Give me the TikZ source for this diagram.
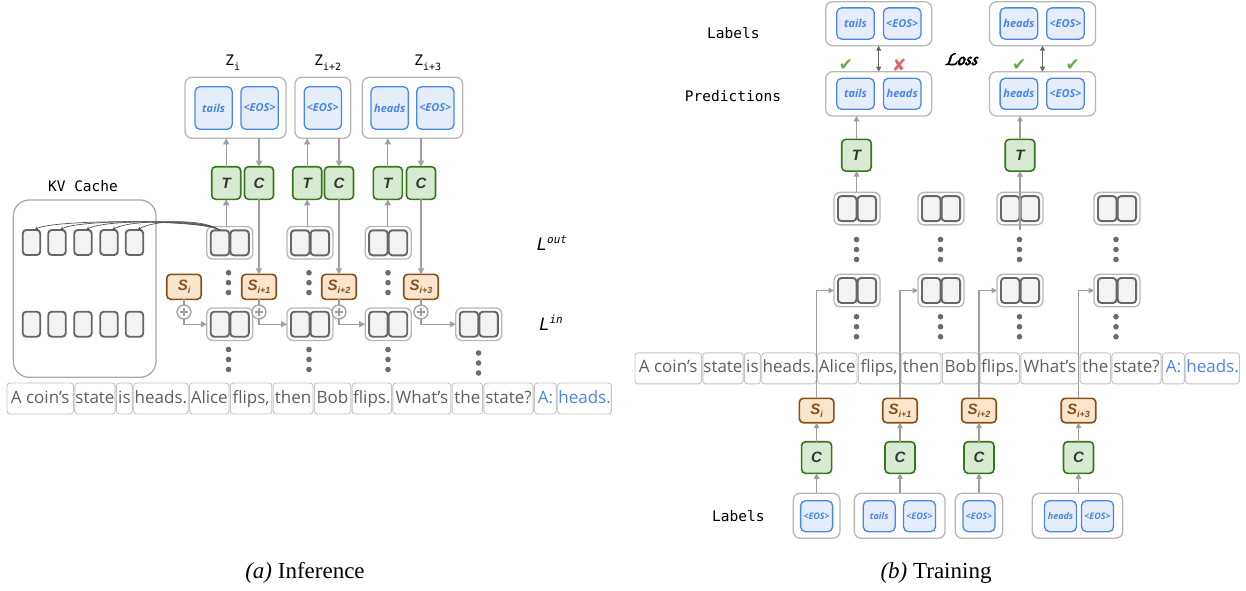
\documentclass[tikz,border=0pt]{standalone}
\usepackage[T1,TU]{fontenc}
\usepackage{fontspec}
\usetikzlibrary{arrows.meta,calc,positioning}
\setmainfont{Open Sans}
\newfontfamily\wordfont{Open Sans}
\newfontfamily\tokfamily{Open Sans}
\newfontfamily\monofam{DejaVu Sans Mono}
\newfontfamily\letterfam{Liberation Sans}
\newfontfamily\capfam{Liberation Serif}
\newfontfamily\symfam{DejaVu Sans}

\definecolor{arrowgrey}{HTML}{9E9E9E}
\definecolor{holdgrey}{HTML}{B7B7B7}
\definecolor{kvgrey}{HTML}{AAAAAA}
\definecolor{cellgrey}{HTML}{666666}
\definecolor{cellfill}{HTML}{F3F3F3}
\definecolor{tokblue}{HTML}{4A86E8}
\definecolor{tokfill}{HTML}{E4EDF9}
\definecolor{gborder}{HTML}{38761D}
\definecolor{gfill}{HTML}{D9EAD3}
\definecolor{lettergrey}{HTML}{353535}
\definecolor{sborder}{HTML}{85501A}
\definecolor{sfill}{HTML}{FCE5CD}
\definecolor{wordgrey}{HTML}{C4C4C4}
\definecolor{wordtext}{HTML}{5F5F5F}
\definecolor{dotgrey}{HTML}{6B6B6B}
\definecolor{chkgreen}{HTML}{6AA84F}
\definecolor{xred}{HTML}{E06666}
\definecolor{dblgrey}{HTML}{666666}
\definecolor{kvline}{HTML}{555555}

\tikzset{
  every node/.style={outer sep=0pt},
  arr/.style={draw=arrowgrey, line width=1.3pt, -{Triangle[length=6pt,width=6pt]}},
  thinarr/.style={draw=arrowgrey, line width=1.1pt, -{Triangle[length=5.5pt,width=5.5pt]}},
  plain/.style={draw=arrowgrey, line width=1.3pt},
  dblarr/.style={draw=dblgrey, line width=1.2pt, {Triangle[length=5pt,width=5pt]}-{Triangle[length=5pt,width=5pt]}},
  kvarr/.style={draw=kvline, line width=0.7pt, -{Stealth[length=4pt,width=3.6pt]}},
  hold/.style={draw=holdgrey, fill=white, rounded corners=7pt, line width=1.3pt, inner sep=0pt},
  cellbox/.style={draw=cellgrey, fill=cellfill, rounded corners=3.5pt, line width=1.9pt, inner sep=0pt, minimum width=18.5pt, minimum height=25pt},
  tokbox/.style={draw=tokblue, fill=tokfill, rounded corners=5pt, line width=1.3pt, inner sep=0pt, text=tokblue, font=\tokfamily\bfseries\itshape\fontsize{11}{13}\selectfont},
  smalltok/.style={tokbox, minimum width=32pt, minimum height=31pt, font=\tokfamily\bfseries\itshape\fontsize{9}{11}\selectfont},
  greenbox/.style={draw=gborder, fill=gfill, rounded corners=4pt, line width=1.6pt, inner sep=0pt, minimum width=29.5pt, minimum height=32pt, text=lettergrey, font=\letterfam\bfseries\itshape\fontsize{15}{15}\selectfont},
  sbox/.style={draw=sborder, fill=sfill, rounded corners=4pt, line width=1.6pt, inner sep=0pt, minimum width=34.5pt, minimum height=25pt, text=sborder, font=\letterfam\bfseries\itshape\fontsize{15}{15}\selectfont},
  wordbox/.style={draw=wordgrey, rounded corners=3pt, line width=0.9pt, inner xsep=0.6pt, inner ysep=0pt, minimum height=31pt, text height=12.6pt, text depth=3.6pt, text=wordtext, font=\wordfont\fontsize{17}{17}\selectfont},
  addcirc/.style={circle, draw=arrowgrey, fill=white, line width=1.3pt, minimum size=14pt, inner sep=0pt,
    path picture={\draw[arrowgrey, line width=1.4pt]
      ($(path picture bounding box.center)+(-4.3,0)$) -- ($(path picture bounding box.center)+(4.3,0)$)
      ($(path picture bounding box.center)+(0,-4.3)$) -- ($(path picture bounding box.center)+(0,4.3)$);}},
  mono/.style={font=\monofam\fontsize{14.5}{14.5}\selectfont, text=black},
  tickmark/.style={font=\symfam\fontsize{17}{17}\selectfont},
}

% a hidden-state pair: rounded holder with two cells
\newcommand\pairbox[3]{%
  \node[hold, rounded corners=6pt, minimum width=46pt, minimum height=32.5pt] (#1) at (#2,#3) {};
  \node[cellbox] (#1-l) at ($(#1)+(-9.8,0)$) {};
  \node[cellbox] (#1-r) at ($(#1)+(9.8,0)$) {};
}
% three stacked dots
\newcommand\dotcol[3]{%
  \foreach \k in {0,1,2} \fill[dotgrey] (#1,{#2+\k*#3}) circle[radius=2.8pt];
}
% the tokenised prompt
\newcommand\sentence[3]{%
  \node[wordbox, minimum width=66.5pt, anchor=west] (#1w1) at (#2,#3) {A coin’s};
  \node[wordbox, minimum width=40pt, right=1.3pt of #1w1] (#1w2) {state};
  \node[wordbox, minimum width=16pt, right=1.3pt of #1w2] (#1w3) {is};
  \node[wordbox, minimum width=54.5pt, right=1.3pt of #1w3] (#1w4) {heads.};
  \node[wordbox, minimum width=39.5pt, right=1.3pt of #1w4] (#1w5) {Alice};
  \node[wordbox, minimum width=41.6pt, right=1.3pt of #1w5] (#1w6) {flips,};
  \node[wordbox, minimum width=39.8pt, right=1.3pt of #1w6] (#1w7) {then};
  \node[wordbox, minimum width=36.5pt, right=1.3pt of #1w7] (#1w8) {Bob};
  \node[wordbox, minimum width=39.5pt, right=1.3pt of #1w8] (#1w9) {flips.};
  \node[wordbox, minimum width=58pt, right=1.3pt of #1w9] (#1w10) {What’s};
  \node[wordbox, minimum width=30.4pt, right=1.3pt of #1w10] (#1w11) {the};
  \node[wordbox, minimum width=49.2pt, right=1.3pt of #1w11] (#1w12) {state?};
  \node[wordbox, minimum width=22pt, right=1.3pt of #1w12, text=tokblue] (#1w13) {A:};
  \node[wordbox, minimum width=53.7pt, right=1.3pt of #1w13, text=tokblue] (#1w14) {heads.};
}

\begin{document}
\begin{tikzpicture}[x=1pt,y=-1pt]
\fill[white] (0,0) rectangle (1246,590);
\useasboundingbox (0,0) rectangle (1246,590);

% ================= (a) Inference =================
% KV cache
\node[draw=kvgrey, rounded corners=16pt, line width=1.3pt, minimum width=142.7pt, minimum height=177.3pt, inner sep=0pt] (kv) at (84.65,288.65) {};
\node[mono] (kvlabel) at (83,186) {KV Cache};
\foreach \i/\x in {1/31.5,2/57,3/83,4/109,5/134.5} {
  \node[cellbox, minimum width=17.5pt] (kvt\i) at (\x,242.5) {};
  \node[cellbox, minimum width=17.5pt] (kvb\i) at (\x,324.2) {};
}

% output groups Z
\node[hold, minimum width=101pt, minimum height=61pt] (zA) at (235.5,107.8) {};
\node[tokbox, minimum width=37.3pt, minimum height=42.6pt] (zA1) at (213.6,108) {tails};
\node[tokbox, minimum width=37.3pt, minimum height=42.6pt] (zA2) at (259.6,108) {<EOS>};
\node[hold, minimum width=55.7pt, minimum height=61pt] (zB) at (322.8,107.8) {};
\node[tokbox, minimum width=37.3pt, minimum height=42.6pt] (zB1) at (322.8,108) {<EOS>};
\node[hold, minimum width=100.4pt, minimum height=61pt] (zC) at (412.5,107.8) {};
\node[tokbox, minimum width=37.3pt, minimum height=42.6pt] (zC1) at (389.7,108) {heads};
\node[tokbox, minimum width=37.3pt, minimum height=42.6pt] (zC2) at (435.3,108) {<EOS>};

\node[mono, anchor=west] (zlabA) at (222,63) {Z\raisebox{-5pt}{\fontsize{10}{10}\selectfont i}};
\node[mono, anchor=west] (zlabB) at (311,63) {Z\raisebox{-5pt}{\fontsize{10}{10}\selectfont i+2}};
\node[mono, anchor=west] (zlabC) at (411,63) {Z\raisebox{-5pt}{\fontsize{10}{10}\selectfont i+3}};

% translator / compressor heads
\node[greenbox, minimum width=29pt, minimum height=32.6pt] (tA) at (226.2,183) {T};
\node[greenbox, minimum width=29pt, minimum height=32.6pt] (cA) at (259,183) {C};
\node[greenbox, minimum width=29pt, minimum height=32.6pt] (tB) at (307.2,183) {T};
\node[greenbox, minimum width=29pt, minimum height=32.6pt] (cB) at (339,183) {C};
\node[greenbox, minimum width=29pt, minimum height=32.6pt] (tC) at (387.8,183) {T};
\node[greenbox, minimum width=29pt, minimum height=32.6pt] (cC) at (421,183) {C};

% hidden states, output layer and input layer
\pairbox{hA}{229.8}{242.8}
\pairbox{hB}{310}{242.8}
\pairbox{hC}{388.2}{242.8}
\pairbox{iA}{229.8}{324.2}
\pairbox{iB}{310}{324.2}
\pairbox{iC}{388.2}{324.2}
\pairbox{iD}{478.8}{324.2}

% states
\node[sbox] (sA) at (184,286.8) {S\raisebox{-3pt}{\fontsize{9}{9}\selectfont i}};
\node[sbox] (sB) at (259,286.8) {S\raisebox{-3pt}{\fontsize{9}{9}\selectfont i+1}};
\node[sbox] (sC) at (339,286.8) {S\raisebox{-3pt}{\fontsize{9}{9}\selectfont i+2}};
\node[sbox] (sD) at (421,286.8) {S\raisebox{-3pt}{\fontsize{9}{9}\selectfont i+3}};
\node[addcirc] (pA) at (184,312) {};
\node[addcirc] (pB) at (259,312) {};
\node[addcirc] (pC) at (339,312) {};
\node[addcirc] (pD) at (421,312) {};

% dots
\dotcol{228.5}{272.7}{9.9}
\dotcol{309}{272.7}{9.9}
\dotcol{388}{272.7}{9.9}
\dotcol{228.5}{349.5}{10}
\dotcol{309}{349.5}{10}
\dotcol{388}{349.5}{10}
\dotcol{478.5}{353}{10}

% layer labels
\node (lout) at (552,243) {\monofam\itshape\fontsize{17}{17}\selectfont L\raisebox{7pt}{\fontsize{11}{11}\selectfont out}};
\node (lin) at (551,323) {\monofam\itshape\fontsize{17}{17}\selectfont L\raisebox{7pt}{\fontsize{11}{11}\selectfont in}};

% connectors (a)
\foreach \i in {1,...,5}
  \draw[kvarr] (hA-l.north) .. controls +(-14,-11) and +(18,-11) .. ($(kvt\i.north)+(3,0)$);
\foreach \h/\t/\c/\z/\s/\p/\n in {hA/tA/cA/zA/sB/pB/iB, hB/tB/cB/zB/sC/pC/iC, hC/tC/cC/zC/sD/pD/iD} {
  \draw[arr] (\h.north -| \t.south) -- (\t.south);
  \draw[arr] (\t.north) -- (\t.north |- \z.south);
  \draw[arr] (\c.north |- \z.south) -- (\c.north);
  \draw[arr] (\c.south) -- (\s.north);
  \draw[plain] (\s.south) -- (\p.north);
  \draw[arr] (\p.south) |- (\n.west);
}
\draw[plain] (sA.south) -- (pA.north);
\draw[arr] (pA.south) |- (iA.west);

\sentence{L}{7}{398.5}

% ================= (b) Training =================
\node[mono] (labtop) at (733.3,33) {Labels};
\node[mono] (predlab) at (733,96) {Predictions};
\node[mono] (labbot) at (738.3,516) {Labels};

\node[hold, minimum width=106pt, minimum height=44pt] (lbA) at (878.7,23.7) {};
\node[tokbox, minimum width=37.6pt, minimum height=31.3pt] (lbA1) at (855.5,23.5) {tails};
\node[tokbox, minimum width=37.6pt, minimum height=31.3pt] (lbA2) at (902.2,23.5) {<EOS>};
\node[hold, minimum width=106pt, minimum height=44pt] (lbB) at (1042.5,23.7) {};
\node[tokbox, minimum width=37.6pt, minimum height=31.3pt] (lbB1) at (1018.9,23.5) {heads};
\node[tokbox, minimum width=37.6pt, minimum height=31.3pt] (lbB2) at (1065.5,23.5) {<EOS>};

\node[hold, minimum width=106pt, minimum height=44.3pt] (pdA) at (878.7,93.8) {};
\node[tokbox, minimum width=37.6pt, minimum height=31pt] (pdA1) at (855.5,93.8) {tails};
\node[tokbox, minimum width=37.6pt, minimum height=31pt] (pdA2) at (902.2,93.8) {heads};
\node[hold, minimum width=106pt, minimum height=44.3pt] (pdB) at (1042.5,93.8) {};
\node[tokbox, minimum width=37.6pt, minimum height=31pt] (pdB1) at (1018.9,93.8) {heads};
\node[tokbox, minimum width=37.6pt, minimum height=31pt] (pdB2) at (1065.5,93.8) {<EOS>};

\draw[dblarr] (lbA.south) -- (pdA.north);
\draw[dblarr] (lbB.south) -- (pdB.north);
\node (loss) at (961,59) {\special{pdf:literal direct 2 Tr 0.6 w}\fontencoding{T1}\fontfamily{pzc}\fontseries{mb}\fontshape{it}\fontsize{20}{20}\selectfont Loss\special{pdf:literal direct 0 Tr}};
\node[tickmark, text=chkgreen] (ck1) at (846,65) {✔};
\node[tickmark, text=xred] (xx1) at (899.3,65) {✘};
\node[tickmark, text=chkgreen] (ck2) at (1019.3,65) {✔};
\node[tickmark, text=chkgreen] (ck3) at (1072.7,65) {✔};

\node[greenbox, minimum height=31.7pt] (tR1) at (856.5,155.2) {T};
\node[greenbox, minimum height=31.7pt] (tR2) at (1020,155.2) {T};

\pairbox{rO1}{857}{208.6}
\pairbox{rO2}{941}{208.6}
\pairbox{rO3}{1020}{208.6}
\pairbox{rO4}{1117}{208.6}
\pairbox{rI1}{857}{290.5}
\pairbox{rI2}{941}{290.5}
\pairbox{rI3}{1020}{290.5}
\pairbox{rI4}{1117}{290.5}

\dotcol{856.5}{239.5}{10}
\dotcol{940.5}{239.5}{10}
\dotcol{1019.5}{239.5}{10}
\dotcol{1116}{239.5}{10}
\dotcol{856.5}{316.7}{10}
\dotcol{940.5}{316.7}{10}
\dotcol{1019.5}{316.7}{10}
\dotcol{1116}{316.7}{10}

\draw[thinarr] (rO1.north -| tR1.south) -- (tR1.south);
\draw[thinarr] (tR1.north) -- (tR1.north |- pdA.south);
\draw[thinarr] ($(rO3.south)+(0,5)$) -- (tR2.south);
\draw[thinarr] (tR2.north) -- (tR2.north |- pdB.south);

\sentence{R}{635}{368.4}

\node[sbox, minimum height=24.4pt] (sR1) at (816.6,410.5) {S\raisebox{-3pt}{\fontsize{9}{9}\selectfont i}};
\node[sbox, minimum height=24.4pt] (sR2) at (900,410.5) {S\raisebox{-3pt}{\fontsize{9}{9}\selectfont i+1}};
\node[sbox, minimum height=24.4pt] (sR3) at (979,410.5) {S\raisebox{-3pt}{\fontsize{9}{9}\selectfont i+2}};
\node[sbox, minimum height=24.4pt] (sR4) at (1078.5,410.5) {S\raisebox{-3pt}{\fontsize{9}{9}\selectfont i+3}};

\node[greenbox, minimum width=30pt, minimum height=31.6pt] (cR1) at (816.6,457.5) {C};
\node[greenbox, minimum width=30pt, minimum height=31.6pt] (cR2) at (900,457.5) {C};
\node[greenbox, minimum width=30pt, minimum height=31.6pt] (cR3) at (979,457.5) {C};
\node[greenbox, minimum width=30pt, minimum height=31.6pt] (cR4) at (1078.5,457.5) {C};

\node[hold, minimum width=46.7pt, minimum height=45pt] (bl1) at (816.6,515.8) {};
\node[smalltok] (bl1a) at (816.6,516.2) {<EOS>};
\node[hold, minimum width=90.7pt, minimum height=45pt] (bl2) at (899.7,515.8) {};
\node[smalltok] (bl2a) at (879.2,516.2) {tails};
\node[smalltok] (bl2b) at (919.5,516.2) {<EOS>};
\node[hold, minimum width=47.4pt, minimum height=45pt] (bl3) at (979,515.8) {};
\node[smalltok] (bl3a) at (979,516.2) {<EOS>};
\node[hold, minimum width=90.4pt, minimum height=45pt] (bl4) at (1077.5,515.8) {};
\node[smalltok] (bl4a) at (1060.5,516.2) {heads};
\node[smalltok] (bl4b) at (1097.5,516.2) {<EOS>};

\foreach \b/\c/\s/\n in {bl1/cR1/sR1/rI1, bl2/cR2/sR2/rI2, bl3/cR3/sR3/rI3, bl4/cR4/sR4/rI4} {
  \draw[thinarr] (\b.north -| \c.south) -- (\c.south);
  \draw[thinarr] (\c.north) -- (\s.south);
  \draw[thinarr] (\s.north) |- (\n.west);
}

% captions
\node (capA) at (305,573) {\capfam\fontsize{23}{23}\selectfont\textit{(a)} Inference};
\node (capB) at (936,573) {\capfam\fontsize{23}{23}\selectfont\textit{(b)} Training};
\end{tikzpicture}
\end{document}
